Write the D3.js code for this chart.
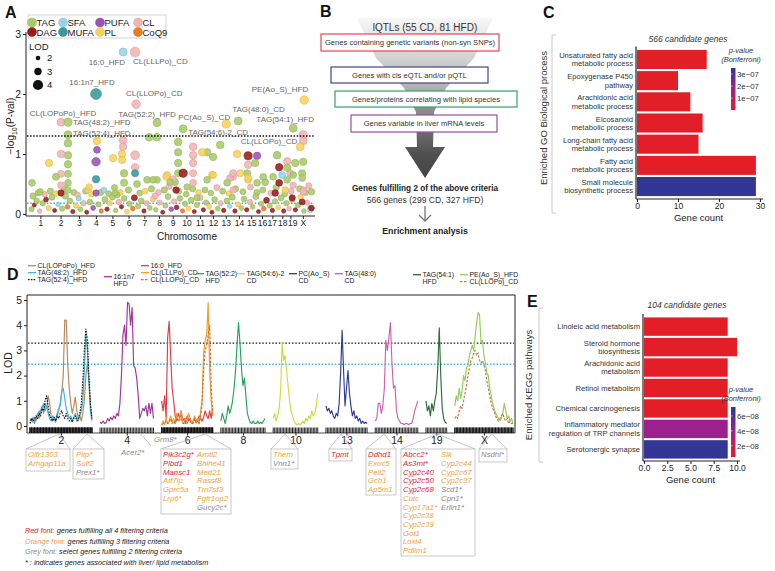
<!DOCTYPE html>
<html>
<head>
<meta charset="utf-8">
<script src="https://cdn.jsdelivr.net/npm/d3@7"></script>
<style>
html,body{margin:0;padding:0;background:#fff;}
svg{display:block;font-family:"Liberation Sans",Arial,Helvetica,sans-serif;}
</style>
</head>
<body>
<svg id="fig" width="775" height="571"></svg>
<script>
// ================= DATA =================
// ---- Panel A ----
const lipidClasses = ["TAG","SFA","PUFA","CL","DAG","MUFA","PL","CoQ9"];
const lipidColors  = ["#a8cb68","#94d5ea","#9a52b4","#f4b3b3","#9b1b1b","#37989f","#f9d25b","#ec7a22"];
const chromNames   = ["1","2","3","4","5","6","7","8","9","10","11","12","13","14","15","16","17","18","19","X"];
const chromLengthsMb = [195,182,160,157,152,150,145,130,125,131,122,120,121,125,104,98,95,91,61,171];
const aYTicks = [0,1,2,3];
const aSigThreshold = 1.3;
const aSuggestThreshold = 0.18;
const lodLegendValues = [2,3,4];
// [cumulative genome position (Mb), -log10(P), lipid class, LOD, label]
const aPointsHigh = [
 [870,2.70,"SFA",3.2,"16:0_HFD"],
 [982,2.70,"CL",3.8,"CL(LLLPo)_CD"],
 [617,2.00,"MUFA",4.2,"16:1n7_HFD"],
 [991,1.83,"CL",3.4,"CL(LLOPo)_CD"],
 [2562,1.90,"PL",3.4,"PE(Ao_S)_HFD"],
 [290,1.53,"CL",3.2,"CL(LOPoPo)_HFD"],
 [355,1.53,"TAG",3.3,"TAG(48:2)_HFD"],
 [355,1.32,"TAG",3.2,"TAG(52:4)_HFD"],
 [1187,1.52,"TAG",3.2,"TAG(52:2)_HFD"],
 [1833,1.50,"PL",3.3,"PC(Ao_S)_CD"],
 [1431,1.42,"TAG",3.2,"TAG(54:6)-2_CD"],
 [1945,1.55,"TAG",3.2,"TAG(48:0)_CD"],
 [2459,1.43,"TAG",3.2,"TAG(54:1)_HFD"],
 [2553,1.32,"CL",3.3,"CL(LLOPo)_CD"],
 [1113,1.28,"TAG",3.1,""],
 [1187,1.28,"TAG",3.1,""],
 [2553,1.22,"CL",3.2,""],
 [2525,1.12,"PL",3.2,""]
];
const aPointsMid = [
 [355,1.18,"TAG",3.1],[355,0.98,"TAG",3.0],[355,0.83,"TAG",3.0],[355,0.67,"TAG",2.9],[355,0.52,"TAG",2.8],[355,0.40,"TAG",2.7],
 [290,1.00,"CL",3.1],[290,0.67,"CL",2.9],[290,0.48,"CL",2.8],[178,0.85,"PL",3.0],
 [626,1.07,"PUFA",2.8],[617,0.87,"PUFA",3.4],[626,1.22,"PL",3.1],[617,0.58,"MUFA",3.0],
 [870,1.23,"CL",3.1],[870,1.12,"CL",3.0],[776,0.93,"PL",3.0],[860,1.00,"PL",3.0],[860,0.90,"PL",2.9],
 [982,0.98,"CL",3.5],[982,0.78,"CL",3.0],[982,0.68,"MUFA",2.9],[879,0.68,"TAG",3.0],[879,0.52,"TAG",2.9],[1000,0.50,"TAG",2.8],
 [1384,1.20,"TAG",3.1],[1384,1.03,"TAG",3.0],[1384,0.85,"TAG",3.0],[1384,0.68,"TAG",2.9],
 [1524,1.12,"CL",3.1],[1524,0.98,"CL",3.0],[1524,0.85,"CL",3.0],[1524,0.68,"CL",2.9],
 [1655,1.03,"TAG",3.0],[1711,0.95,"TAG",3.0],[1608,1.03,"PL",3.0],[1777,1.15,"TAG",3.1],[1935,1.00,"PL",3.0],
 [2038,0.97,"DAG",3.3],[2038,0.82,"CL",3.0],[2038,0.57,"PL",2.9],[2122,0.97,"PUFA",3.0],[2309,0.98,"TAG",3.1],
 [2328,0.78,"DAG",3.0],[2328,0.52,"DAG",2.8],[2478,0.85,"TAG",3.0],[2553,0.87,"TAG",3.0],[2403,0.88,"CL",3.0],
 [2104,0.85,"TAG",3.0],[2029,0.68,"TAG",2.9],[1431,0.68,"DAG",3.3],[1281,0.65,"PL",2.9],[19,0.52,"TAG",2.8],
 [1702,0.65,"PL",2.9],[1898,0.62,"CL",2.9],[243,0.62,"TAG",2.9],[1094,0.57,"TAG",2.8],[1187,0.57,"TAG",2.8],
 [1272,0.62,"PL",2.8],[1356,0.53,"TAG",2.8],[1337,0.58,"CL",2.8],[1468,0.45,"TAG",2.7],[1870,0.60,"CL",2.8],
 [1964,0.68,"PL",2.9],[2197,0.53,"TAG",2.8],[2272,0.62,"TAG",2.8],[2356,0.65,"SFA",2.8],[2431,0.68,"CL",2.9],
 [2543,0.68,"TAG",2.9],[2459,0.65,"TAG",2.8],[2384,0.40,"PL",2.7],[2553,0.40,"CL",2.7],[2630,0.37,"TAG",2.7],
 [2291,0.35,"DAG",2.7],[94,0.37,"TAG",2.7],[542,0.40,"PL",2.7],[813,0.32,"TAG",2.6],[1561,0.27,"TAG",2.6],
 [552,0.45,"PL",2.7],[617,0.35,"PUFA",2.6],[290,0.35,"DAG",2.6],[795,0.35,"TAG",2.6],[1150,0.57,"TAG",2.8],
 [1169,0.30,"CL",2.6],[1309,0.53,"TAG",2.8],[1365,0.40,"DAG",2.7],[1524,0.52,"CL",2.8],[1655,0.57,"TAG",2.8],
 [1711,0.65,"PL",2.8],[1842,0.52,"TAG",2.8],[1898,0.40,"CL",2.7],[2038,0.60,"PL",2.8],[2122,0.52,"TAG",2.8],
 [2179,0.62,"TAG",2.8],[2403,0.57,"TAG",2.8],[2459,0.48,"CL",2.7],[2543,0.60,"TAG",2.8],[2553,0.37,"CL",2.7],
 [2450,0.27,"DAG",2.6],[2543,0.20,"DAG",2.5],[2620,0.07,"SFA",2.4],[2630,0.10,"DAG",2.4],[2403,0.77,"TAG",3.0],[1898,0.68,"CL",2.9]
];
const aPointsLow = [
 [28,0.30,"TAG",2.6],[75,0.35,"TAG",2.5],[135,0.33,"CL",2.4],[190,0.38,"TAG",2.6],[245,0.34,"PL",2.4],[320,0.42,"TAG",2.6],
 [410,0.36,"TAG",2.5],[445,0.32,"CL",2.4],[520,0.38,"TAG",2.5],[575,0.33,"PL",2.4],[660,0.36,"TAG",2.6],[690,0.40,"SFA",2.4],
 [735,0.34,"TAG",2.5],[790,0.44,"TAG",2.6],[845,0.36,"PL",2.4],[920,0.40,"TAG",2.6],[1025,0.35,"TAG",2.5],[1075,0.38,"PL",2.4],
 [1135,0.42,"TAG",2.6],[1200,0.36,"CL",2.4],[1255,0.40,"TAG",2.6],[1300,0.46,"CL",2.5],[1390,0.38,"TAG",2.5],[1460,0.33,"TAG",2.4],
 [1520,0.42,"TAG",2.6],[1575,0.36,"PL",2.4],[1635,0.40,"TAG",2.5],[1690,0.35,"TAG",2.4],[1745,0.44,"CL",2.5],[1800,0.38,"TAG",2.5],
 [1860,0.34,"PL",2.4],[1920,0.42,"TAG",2.6],[1990,0.37,"TAG",2.5],[2060,0.45,"CL",2.5],[2120,0.36,"TAG",2.5],[2175,0.40,"TAG",2.5],
 [2250,0.35,"CL",2.4],[2300,0.44,"TAG",2.6],[2380,0.33,"TAG",2.4],[2440,0.38,"CL",2.5],[2520,0.42,"TAG",2.6],[2575,0.36,"TAG",2.5],[2605,0.47,"CL",2.5],
 [15,0.08,"TAG",2.2],[40,0.15,"DAG",1.8],[62,0.22,"TAG",2.4],[90,0.05,"CL",2.0],[118,0.18,"TAG",2.3],[150,0.24,"DAG",2.1],
 [175,0.10,"PL",2.2],[205,0.28,"TAG",2.5],[230,0.06,"DAG",1.8],[262,0.16,"SFA",2.0],[300,0.09,"TAG",2.3],[330,0.30,"TAG",2.6],
 [350,0.12,"CoQ9",2.0],[372,0.22,"TAG",2.4],[400,0.04,"DAG",1.9],[430,0.14,"PL",2.2],[455,0.26,"SFA",2.2],[470,0.08,"TAG",2.1],
 [500,0.18,"CL",2.3],[530,0.03,"DAG",1.8],[560,0.20,"TAG",2.4],[590,0.10,"PUFA",2.1],[640,0.16,"TAG",2.3],[665,0.05,"CoQ9",1.9],
 [700,0.24,"TAG",2.5],[720,0.08,"DAG",1.9],[745,0.18,"PL",2.2],[770,0.28,"TAG",2.4],[800,0.06,"TAG",2.0],[830,0.20,"CL",2.3],
 [855,0.12,"DAG",1.9],[880,0.26,"TAG",2.4],[905,0.04,"PL",2.0],[930,0.17,"TAG",2.3],[960,0.09,"CoQ9",2.0],[975,0.27,"DAG",2.5],
 [1010,0.13,"TAG",2.2],[1040,0.22,"TAG",2.4],[1065,0.05,"DAG",1.9],[1090,0.18,"CL",2.2],[1120,0.10,"TAG",2.1],[1150,0.25,"PL",2.4],
 [1175,0.07,"TAG",2.0],[1210,0.19,"CL",2.3],[1240,0.03,"DAG",1.8],[1265,0.14,"TAG",2.2],[1290,0.29,"TAG",2.5],[1320,0.08,"PUFA",2.0],
 [1345,0.21,"CL",2.3],[1370,0.11,"DAG",2.0],[1400,0.26,"TAG",2.4],[1425,0.05,"CoQ9",1.9],[1450,0.17,"TAG",2.2],[1480,0.09,"PL",2.1],
 [1505,0.23,"TAG",2.4],[1535,0.04,"DAG",1.8],[1560,0.15,"TAG",2.2],[1590,0.27,"CL",2.4],[1620,0.07,"DAG",1.9],[1645,0.19,"TAG",2.3],
 [1675,0.12,"PL",2.1],[1700,0.03,"DAG",1.8],[1725,0.24,"TAG",2.4],[1755,0.09,"TAG",2.1],[1780,0.18,"CL",2.2],[1810,0.06,"DAG",1.9],
 [1840,0.22,"TAG",2.4],[1865,0.13,"SFA",2.0],[1890,0.28,"TAG",2.5],[1915,0.05,"DAG",1.9],[1945,0.16,"PL",2.2],[1975,0.10,"TAG",2.1],
 [2000,0.25,"TAG",2.4],[2025,0.07,"DAG",1.9],[2055,0.20,"CL",2.3],[2080,0.12,"TAG",2.1],[2110,0.29,"TAG",2.5],[2135,0.04,"DAG",1.8],
 [2160,0.17,"TAG",2.2],[2185,0.09,"CoQ9",2.0],[2210,0.23,"DAG",2.4],[2240,0.14,"TAG",2.2],[2265,0.06,"DAG",1.9],[2290,0.21,"TAG",2.3],
 [2320,0.11,"PL",2.1],[2345,0.27,"TAG",2.4],[2370,0.05,"DAG",1.9],[2395,0.18,"TAG",2.3],[2420,0.09,"CL",2.1],[2450,0.24,"TAG",2.4],
 [2480,0.07,"DAG",1.9],[2505,0.15,"TAG",2.2],[2530,0.28,"PL",2.4],[2560,0.05,"TAG",2.0],[2590,0.19,"CL",2.3],[2615,0.10,"SFA",2.1]
];

// ---- Panel B ----
const bTitle = "lQTLs (55 CD, 81 HFD)";
const bCriteria = ["Genes containing genetic variants (non-syn SNPs)","Genes with cis eQTL and/or pQTL","Genes/proteins correlating with lipid species","Genes variable in liver mRNA levels"];
const bCriteriaColors = ["#df4a50","#44448f","#2fa46c","#9b4ea6"];
const bResult = ["Genes fulfilling 2 of the above criteria","566 genes (299 CD, 327 HFD)","Enrichment analysis"];

// ---- Panel C ----
const cTerms = [["Unsaturated fatty acid","metabolic process"],["Epoxygenase P450","pathway"],["Arachidonic acid","metabolic process"],["Eicosanoid","metabolic process"],["Long-chain fatty acid","metabolic process"],["Fatty acid","metabolic process"],["Small molecule","biosynthetic process"]];
const cGeneCounts = [17,10,13,16,15,29,29];
const cPValues = [3e-9,4e-9,3e-9,5e-9,6e-9,1e-9,3.4e-7];
const cXTicks = [0,10,20,30];
const cPTicks = [1e-7,2e-7,3e-7];
const cPTickLabels = ["1e\u221207","2e\u221207","3e\u221207"];

// ---- Panel D ----
const dChroms = ["2","4","6","8","10","13","14","19","X"];
const dChromLengths = [182,157,150,130,131,121,125,61,171];
const dYTicks = [0,1,2,3,4,5];
const dSigThreshold = 3.29;
const dSuggestThreshold = 2.45;
const lodChr2_CL_LOPoPo_HFD = [0.2,0.3,0.15,0.35,0.2,0.5,0.3,0.6,0.8,0.5,0.9,0.7,1.2,0.9,0.4,0.2,0.3,0.15,0.4,0.6,0.9,1.3,2.0,4.2,4.2,2.4,1.5,0.9,0.5,0.8,1.15,0.6,0.3,0.4,0.2,0.5,1.0,2.0,2.5,1.8,0.8,0.3];
const lodChr2_TAG48_2_HFD = [0.3,0.2,0.35,0.1,0.3,0.45,0.6,0.5,0.7,0.9,0.6,0.8,0.5,0.3,0.2,0.4,0.3,0.25,0.5,0.7,0.8,1.4,1.5,1.1,0.7,0.5,0.3,0.4,0.2,0.35,0.5,0.3,0.2,0.4,0.6,1.0,2.2,3.6,3.0,1.8,0.6,0.2];
const lodChr2_TAG52_4_HFD = [0.1,0.3,0.2,0.25,0.4,0.3,0.5,0.4,0.7,0.6,1.0,1.2,0.8,0.4,0.3,0.2,0.35,0.2,0.4,0.3,0.5,0.6,0.4,0.3,0.5,0.3,0.2,0.3,0.15,0.3,0.4,0.2,0.3,0.5,0.9,1.8,3.0,3.85,3.4,2.0,0.9,0.3];
const lodChr4_16_1n7_HFD = [0.15,0.1,0.2,0.1,0.15,0.3,0.2,0.35,0.25,0.4,0.3,0.5,0.4,0.9,2.0,3.6,4.0,3.2,4.9,4.85,4.0,4.7,2.4,2.3,1.9,1.2,0.3,0.5,0.7,0.6,0.8,0.4,0.9,0.5,0.9,0.3];
const lodChr6_16_0_HFD = [1.0,0.6,1.2,0.3,3.5,4.15,2.8,1.5,1.0,0.4,0.2,0.5,0.3,0.6,0.2,0.3,0.1,0.4,0.2,0.3,0.1,0.2,0.3,0.15,0.2,0.4,0.3,0.2,0.35,0.6,0.4,0.3,0.6,0.3,0.7];
const lodChr6_CL_LLLPo_CD = [0.1,0.2,0.05,0.3,0.1,0.2,0.4,0.15,0.3,0.1,0.5,0.2,0.3,0.6,0.2,0.1,0.3,0.2,0.5,0.3,0.1,0.2,0.4,0.2,0.3,0.1,0.6,1.1,2.9,3.4,3.6,4.9,2.2,1.0,0.4];
const lodChr6_CL_LLOPo_CD = [0.05,0.1,0.1,0.2,0.1,0.15,0.3,0.1,0.2,0.1,0.3,0.2,0.2,0.4,0.1,0.1,0.2,0.1,0.3,0.2,0.1,0.1,0.3,0.1,0.2,0.1,0.4,0.9,2.2,3.0,3.2,3.6,4.0,1.6,0.5];
const lodChr8_TAG52_2_HFD = [0.2,0.5,0.3,0.1,0.4,0.8,0.5,0.7,1.0,1.5,2.2,3.2,4.1,3.3,2.3,1.6,1.9,1.2,0.5,0.3,0.15,0.1,0.2,0.1,0.1,0.2,0.1,0.15,0.1,0.2,0.3];
const lodChr10_TAG54_6_2_CD = [0.3,0.5,0.2,0.4,0.7,1.4,3.3,2.6,2.8,2.2,1.6,1.0,0.6,0.4,0.2,0.1,0.05,0.1,0.05,0.1,0.2,0.1,0.3,0.2,0.4,0.3,0.6,0.4,0.5,0.8,1.3];
const lodChr13_PC_AoS_CD = [0.8,0.6,0.7,0.5,0.6,0.4,0.3,0.5,0.4,0.9,2.1,3.8,2.2,0.8,1.5,2.2,1.3,0.8,0.4,0.6,0.3,0.4,0.2,0.3,0.1,0.2,0.1,0.15,0.1];
const lodChr14_TAG48_0_CD = [0.2,0.3,0.9,0.9,0.5,0.8,1.5,3.4,3.0,3.5,4.1,2.5,1.5,1.6,0.6,0.3,0.2,0.1,0.1,0.05,0.1,0.1,0.05,0.1,0.1,0.3,0.6,0.8,1.0];
const lodChr19_TAG54_1_HFD = [1.0,0.6,0.8,0.4,0.9,0.6,1.0,1.3,2.3,3.9,2.0,0.7,0.3,0.15,0.1];
const lodChrX_PE_AoS_HFD = [0.8,1.2,1.0,1.5,1.1,1.4,2.0,1.8,2.3,2.4,2.8,3.0,3.2,3.0,3.6,4.1,4.5,4.4,3.3,3.4,2.8,2.5,2.1,2.0,1.5,1.2,0.9,0.7,0.5,0.4,0.3,0.2,0.3,0.5,0.9,0.6,0.3,0.4,0.2,0.3,0.1];
const lodChrX_CL_LLOPo_CD = [0.3,0.4,0.3,0.6,0.8,0.7,1.0,1.3,1.6,2.0,2.3,2.6,2.7,2.9,3.0,2.8,2.9,2.6,2.5,2.6,2.4,2.2,1.8,1.5,1.2,0.9,0.7,0.6,0.4,0.3,0.2,0.3,0.4,0.5,0.3,0.2,0.3,0.1,0.2,0.1,0.1];

// genes: [name, number of criteria fulfilled]
const genesChr2a = [["Olfr1303",3],["Arhgap11a",3]];
const genesChr2b = [["Pltp*",3],["Sulf2",3],["Prex1*",2]];
const genesChr4 = [["Acer2*",2]];
const genesChr6a = [["Grm8*",2]];
const genesChr6L = [["Pik3c2g*",4],["Plbd1",4],["Mansc1",4],["Atf7ip",3],["Gprc5a",3],["Lrp6*",3]];
const genesChr6R = [["Arntl2",3],["Bhlhe41",3],["Med21",3],["Rassf8",3],["Tm7sf3",3],["Fgfr1op2",3],["Gucy2c*",2]];
const genesChr10 = [["Them",3],["Vnn1*",2]];
const genesChr13 = [["Tpmt",4]];
const genesChr14 = [["Ddhd1",4],["Exoc5",3],["Pell2",3],["Gch1",3],["Ap5m1",3]];
const genesChr19L = [["Abcc2*",4],["As3mt*",4],["Cyp2c40",4],["Cyp2c50",4],["Cyp2c68",4],["Cutc",3],["Cyp17a1*",3],["Cyp2c38",3],["Cyp2c39",3],["Got1",3],["Loxl4",3],["Pdlim1",3]];
const genesChr19R = [["Slk",3],["Cyp2c44",3],["Cyp2c67",3],["Cyp2c37",3],["Scd1*",2],["Cpn1*",2],["Erlin1*",2]];
const genesChrX = [["Nsdhl*",2]];
const footnotes = [["Red font:"," genes fulfilling all 4 filtering criteria",4],["Orange font:"," genes fulfilling 3 filtering criteria",3],["Grey font:"," select genes fulfilling 2 filtering criteria",2],["* : indicates genes associated with liver/ lipid metabolism","",0]];

// ---- Panel E ----
const eTerms = [["Linoleic acid metabolism"],["Steroid hormone","biosynthesis"],["Arachidonic acid","metabolism"],["Retinol metabolism"],["Chemical carcinogenesis"],["Inflammatory mediator","regulation of TRP channels"],["Serotonergic synapse"]];
const eGeneCounts = [9,10,9,9,9,9,9];
const ePValues = [1e-9,2e-9,1.5e-9,2.5e-9,3e-9,4e-8,7e-8];
const eXTicks = [0,2.5,5,7.5,10];
const ePTicks = [2e-8,4e-8,6e-8];
const ePTickLabels = ["2e\u221208","4e\u221208","6e\u221208"];

// ================= DRAWING =================
const FONT = '"Liberation Sans", Arial, Helvetica, sans-serif';
const svg = d3.select("#fig");
const defs = svg.append("defs");
function txt(g,x,y,s,o={}){
  const t=g.append("text").attr("x",x).attr("y",y).text(s)
   .attr("font-size",o.size||8).attr("fill",o.fill||"#222").attr("text-anchor",o.anchor||"start");
  if(o.weight) t.attr("font-weight",o.weight);
  if(o.style) t.attr("font-style",o.style);
  return t;
}
function styleAxis(g,size){
  g.attr("font-family",FONT).attr("font-size",size);
  g.selectAll("line").attr("stroke","#222");
  g.selectAll("path").attr("stroke","#222");
  g.selectAll("text").attr("fill","#222");
}
[["A",5,18],["B",320,17],["C",543,18],["D",7,280],["E",527,307]].forEach(p=>txt(svg,p[1],p[2],p[0],{size:16,weight:"bold",fill:"#111"}));

// ----- Panel A -----
(function(){
  const g=svg.append("g");
  const starts=[]; let acc=0; chromLengthsMb.forEach(l=>{starts.push(acc);acc+=l;});
  const centers=chromLengthsMb.map((l,i)=>starts[i]+l/2);
  const x=d3.scaleLinear().domain([0,acc]).range([30,312]);
  const y=d3.scaleLinear().domain([0,3]).range([214,34]);
  const r=d3.scaleLinear().domain([2,4]).range([2.3,5.1]);
  const col=d3.scaleOrdinal().domain(lipidClasses).range(lipidColors);

  const ya=g.append("g").attr("transform","translate(26,0)")
    .call(d3.axisLeft(y).tickValues(aYTicks).tickFormat(d3.format("d")).tickSize(3).tickPadding(2).tickSizeOuter(0));
  ya.select(".domain").remove(); styleAxis(ya,10.5);
  g.append("line").attr("x1",26).attr("x2",26).attr("y1",32).attr("y2",216).attr("stroke","#222");
  const xa=g.append("g").attr("transform","translate(0,216)")
    .call(d3.axisBottom(x).tickValues(centers).tickFormat((d,i)=>chromNames[i]).tickSize(3).tickPadding(1).tickSizeOuter(0));
  xa.select(".domain").remove(); styleAxis(xa,8.5);
  xa.selectAll(".tick text").attr("dx",(d,i)=>chromNames[i]==="19"?1.8:(chromNames[i]==="17"?-0.6:0));
  g.append("line").attr("x1",26).attr("x2",315).attr("y1",216).attr("y2",216).attr("stroke","#222");
  txt(g,187,240,"Chromosome",{size:10,anchor:"middle"});
  const yl=g.append("text").attr("transform","translate(14,126) rotate(-90)").attr("text-anchor","middle").attr("font-size",10).attr("fill","#222");
  yl.append("tspan").text("\u2212log");
  yl.append("tspan").text("10").attr("font-size",7).attr("dy",3);
  yl.append("tspan").text("(P-val)").attr("dy",-3);

  const pts=aPointsLow.concat(aPointsMid).concat(aPointsHigh);
  g.append("line").attr("x1",27).attr("x2",314).attr("y1",y(aSuggestThreshold)).attr("y2",y(aSuggestThreshold))
   .attr("stroke","#3fb2dc").attr("stroke-width",1.4).attr("stroke-dasharray","1.5,1.8");
  g.selectAll("circle.pt").data(pts).join("circle").attr("class","pt")
   .attr("cx",d=>x(d[0])).attr("cy",d=>y(d[1])).attr("r",d=>r(d[3]))
   .attr("fill",d=>col(d[2])).attr("fill-opacity",0.88)
   .attr("stroke",d=>d3.color(col(d[2])).darker(0.35)).attr("stroke-width",0.6);
  g.append("line").attr("x1",27).attr("x2",314).attr("y1",y(aSigThreshold)).attr("y2",y(aSigThreshold))
   .attr("stroke","#111").attr("stroke-width",1.4).attr("stroke-dasharray","1.5,1.6");
  const place=[[2,13,"end"],[-2,12,"start"],[-4,-9,"middle"],[-10,-8,"start"],[4,-8,"end"],[2,-6,"middle"],[5,3,"start"],[5,1,"start"],[-10,-6,"middle"],[4,-4,"end"],[5,6,"start"],[-6,-9,"start"],[-8,-6,"middle"],[-6,9,"end"]];
  aPointsHigh.forEach((d,i)=>{ if(!d[4]) return; const p=place[i];
    txt(g,x(d[0])+p[0],y(d[1])+p[1],d[4],{size:8,fill:"#666",anchor:p[2]}); });
  g.append("rect").attr("x",28).attr("y",15).attr("width",138).attr("height",23).attr("fill","#fff").attr("fill-opacity",0.9).attr("stroke","#c8c8c8").attr("stroke-width",0.8);
  const legX=[32,63,100,138];
  lipidClasses.forEach((c,i)=>{ const cx=legX[i%4], cy=i<4?22.5:32;
    g.append("circle").attr("cx",cx).attr("cy",cy).attr("r",4.5).attr("fill",lipidColors[i]).attr("stroke",d3.color(lipidColors[i]).darker(0.3)).attr("stroke-width",0.5);
    txt(g,cx+4.5,cy+3.5,c,{size:9.5,fill:"#222"}); });
  txt(g,29,50,"LOD",{size:9.5});
  lodLegendValues.forEach((v,i)=>{ const cy=58+i*13.5;
    g.append("circle").attr("cx",38).attr("cy",cy).attr("r",r(v)).attr("fill","#111");
    txt(g,47,cy+3.3,String(v),{size:9.5}); });
})();

// ----- Panel B -----
(function(){
  const g=svg.append("g");
  const gr=defs.append("linearGradient").attr("id","funnelGrad").attr("x1",0).attr("y1",0).attr("x2",0).attr("y2",1);
  [[0,"#f7f7f7"],[0.15,"#e2e2e2"],[0.4,"#b9b9b9"],[0.65,"#7a7a7a"],[0.85,"#505050"],[1,"#444"]].forEach(s=>gr.append("stop").attr("offset",s[0]).attr("stop-color",s[1]));
  const shape=[[357,18],[376,58],[404,88],[416,112],[417,147],[405,147],[425,178],[445,147],[433,147],[434,112],[446,88],[474,58],[493,18]];
  g.append("path").attr("d",d3.line()(shape)+"Z").attr("fill","url(#funnelGrad)");
  txt(g,425,31,bTitle,{size:10,anchor:"middle",fill:"#333"});
  const boxes=[[321,34,178,17],[331,67,157,16],[335,91,182,16],[351,115,146,17]];
  bCriteria.forEach((s,i)=>{ const b=boxes[i];
    g.append("rect").attr("x",b[0]).attr("y",b[1]).attr("width",b[2]).attr("height",b[3]).attr("fill","#fff").attr("stroke",bCriteriaColors[i]).attr("stroke-width",1.2);
    txt(g,b[0]+b[2]/2,b[1]+b[3]/2+2.8,s,{size:7.6,anchor:"middle",fill:"#333"}); });
  txt(g,425,191,bResult[0],{size:8.2,weight:"bold",anchor:"middle",fill:"#222"});
  txt(g,425,203,bResult[1],{size:8.6,anchor:"middle",fill:"#333"});
  g.append("path").attr("d","M425,206V221M419,215L425,221L431,215").attr("fill","none").attr("stroke","#777").attr("stroke-width",1.3);
  txt(g,425,234,bResult[2],{size:8.8,weight:"bold",anchor:"middle",fill:"#222"});
})();

function makeColor(lo,hi){ return d3.scaleLinear().domain([lo,(lo+hi)/2,hi]).range(["#e31e26","#a1208f","#2c3794"]).clamp(true); }
function colorBar(g,id,x0,y0,y1,lo,hi,ticks,labels){
  const gr=defs.append("linearGradient").attr("id",id).attr("x1",0).attr("y1",1).attr("x2",0).attr("y2",0);
  [[0,"#e31e26"],[0.5,"#a1208f"],[1,"#2c3794"]].forEach(s=>gr.append("stop").attr("offset",s[0]).attr("stop-color",s[1]));
  g.append("rect").attr("x",x0).attr("y",y0).attr("width",4.5).attr("height",y1-y0).attr("fill","url(#"+id+")");
  const s=d3.scaleLinear().domain([lo,hi]).range([y1,y0]);
  ticks.forEach((t,i)=>{ g.append("line").attr("x1",x0).attr("x2",x0+1.5).attr("y1",s(t)).attr("y2",s(t)).attr("stroke","#fff").attr("stroke-width",0.6);
    txt(g,x0+6,s(t)+2.8,labels[i],{size:7.8,fill:"#333"}); });
}
function barPanel(opt){
  const g=svg.append("g");
  const y=d3.scaleBand().domain(opt.terms.map((d,i)=>i)).range(opt.yRange).paddingInner(0.1).paddingOuter(0.02);
  const x=d3.scaleLinear().domain(opt.xDomain).range(opt.xRange);
  const col=makeColor(opt.pLo,opt.pHi);
  g.selectAll("rect.bar").data(opt.counts).join("rect").attr("class","bar")
   .attr("x",x(0)).attr("y",(d,i)=>y(i)).attr("width",d=>x(d)-x(0)).attr("height",y.bandwidth())
   .attr("fill",(d,i)=>col(opt.pvals[i]));
  const xa=g.append("g").attr("transform",`translate(0,${opt.axisY})`)
   .call(d3.axisBottom(x).tickValues(opt.ticks).tickFormat(opt.fmt).tickSize(3).tickPadding(0.5).tickSizeOuter(0));
  styleAxis(xa,8.5);
  xa.select(".domain").attr("d",`M${opt.xRange[0]-1},0H${opt.xRange[1]+3}`);
  g.append("line").attr("x1",x(0)-1).attr("x2",x(0)-1).attr("y1",opt.yRange[0]-3).attr("y2",opt.axisY).attr("stroke","#222").attr("stroke-width",1.2);
  opt.terms.forEach((t,i)=>{ const cy=y(i)+y.bandwidth()/2; const n=t.length;
    t.forEach((s,j)=>txt(g,x(0)-4,cy+(j-(n-1)/2)*8.4+2.7,s,{size:7.6,anchor:"end",fill:"#333"})); });
  txt(g,(opt.xRange[0]+opt.xRange[1])/2,opt.axisY+21.5,"Gene count",{size:9.5,anchor:"middle"});
  txt(g,opt.titleX,opt.titleY,opt.title,{size:8.5,style:"italic",anchor:"middle",fill:"#333"});
  g.append("path").attr("d",`M${opt.brX+4},${opt.brY0}H${opt.brX}V${opt.brY1}H${opt.brX+4}`).attr("fill","none").attr("stroke","#c8c8c8").attr("stroke-width",1);
  g.append("text").attr("transform",`translate(${opt.labX},${opt.labY}) rotate(-90)`).attr("text-anchor","middle").attr("font-size",9.5).attr("fill","#333").text(opt.yLabel);
  txt(g,opt.cbX+10,opt.cbY0-15,"p-value",{size:7.5,style:"italic",anchor:"middle",fill:"#333"});
  txt(g,opt.cbX+10,opt.cbY0-6,"(Bonferroni)",{size:7.5,style:"italic",anchor:"middle",fill:"#333"});
  colorBar(g,opt.id,opt.cbX,opt.cbY0,opt.cbY1,opt.cbLo,opt.cbHi,opt.pTicks,opt.pLabels);
}
barPanel({terms:cTerms,counts:cGeneCounts,pvals:cPValues,yRange:[49.5,196.5],xDomain:[0,30],xRange:[637,760],
  pLo:1e-9,pHi:3.5e-7,ticks:cXTicks,fmt:d3.format("d"),axisY:199,title:"566 candidate genes",titleX:688,titleY:42,
  brX:552,brY0:35,brY1:213,labX:547,labY:118,yLabel:"Enriched GO Biological process",
  id:"cbC",cbX:731,cbY0:68,cbY1:110,cbLo:1e-9,cbHi:3.5e-7,pTicks:cPTicks,pLabels:cPTickLabels});
barPanel({terms:eTerms,counts:eGeneCounts,pvals:ePValues,yRange:[317,459],xDomain:[0,10],xRange:[644,737],
  pLo:5e-9,pHi:7.2e-8,ticks:eXTicks,fmt:d3.format(".1f"),axisY:461,title:"104 candidate genes",titleX:687,titleY:308,
  brX:539,brY0:308,brY1:462,labX:532,labY:385,yLabel:"Enriched KEGG pathways",
  id:"cbE",cbX:731,cbY0:407,cbY1:457,cbLo:5e-9,cbHi:7.2e-8,pTicks:ePTicks,pLabels:ePTickLabels});

// ----- Panel D -----
(function(){
  const g=svg.append("g");
  const gap=24; const offs={}; let acc=0;
  dChroms.forEach((c,i)=>{offs[c]=acc; acc+=dChromLengths[i]+gap;});
  const total=acc-gap;
  const lenOf=c=>dChromLengths[dChroms.indexOf(c)];
  const x=d3.scaleLinear().domain([0,total]).range([30,513]);
  const y=d3.scaleLinear().domain([0,5]).range([426,300]);
  const traces=[
    {name:["CL(LOPoPo)_HFD"],chr:"2",v:lodChr2_CL_LOPoPo_HFD,c:"#b8875a",dash:null,lg:[28,268]},
    {name:["TAG(48:2)_HFD"],chr:"2",v:lodChr2_TAG48_2_HFD,c:"#38b3e6",dash:null,lg:[28,275]},
    {name:["TAG(52:4)_HFD"],chr:"2",v:lodChr2_TAG52_4_HFD,c:"#151515",dash:"1.6,1.2",lg:[28,282]},
    {name:["16:1n7","HFD"],chr:"4",v:lodChr4_16_1n7_HFD,c:"#a3339b",dash:null,lg:[104,279]},
    {name:["16:0_HFD"],chr:"6",v:lodChr6_16_0_HFD,c:"#e23a45",dash:null,lg:[141,268]},
    {name:["CL(LLLPo)_CD"],chr:"6",v:lodChr6_CL_LLLPo_CD,c:"#ef9c2c",dash:null,lg:[141,275]},
    {name:["CL(LLOPo)_CD"],chr:"6",v:lodChr6_CL_LLOPo_CD,c:"#c8702a",dash:"2.5,1.5",lg:[141,282]},
    {name:["TAG(52:2)","HFD"],chr:"8",v:lodChr8_TAG52_2_HFD,c:"#22a356",dash:null,lg:[196,276]},
    {name:["TAG(54:6)-2","CD"],chr:"10",v:lodChr10_TAG54_6_2_CD,c:"#c9dc3a",dash:null,lg:[237,276]},
    {name:["PC(Ao_S)","CD"],chr:"13",v:lodChr13_PC_AoS_CD,c:"#2f3a92",dash:null,lg:[289,276]},
    {name:["TAG(48:0)","CD"],chr:"14",v:lodChr14_TAG48_0_CD,c:"#cf5fb5",dash:null,lg:[335,276]},
    {name:["TAG(54:1)","HFD"],chr:"19",v:lodChr19_TAG54_1_HFD,c:"#2e6b35",dash:null,lg:[413,277]},
    {name:["PE(Ao_S)_HFD"],chr:"X",v:lodChrX_PE_AoS_HFD,c:"#8fce5a",dash:null,lg:[460,277]},
    {name:["CL(LLOPo)_CD"],chr:"X",v:lodChrX_CL_LLOPo_CD,c:"#c47a3a",dash:"2.5,1.5",lg:[460,284]}
  ];
  traces.forEach(t=>{ const L=lenOf(t.chr), n=t.v.length; t.pts=t.v.map((v,i)=>[offs[t.chr]+i/(n-1)*L,v]); });
  g.append("path").attr("d","M27,433V295H515V433").attr("fill","none").attr("stroke","#222").attr("stroke-width",1);
  g.append("line").attr("x1",27).attr("x2",515).attr("y1",433).attr("y2",433).attr("stroke","#222").attr("stroke-width",0.8);
  const ya=g.append("g").attr("transform","translate(27,0)").call(d3.axisLeft(y).tickValues(dYTicks).tickFormat(d3.format("d")).tickSize(3).tickPadding(2).tickSizeOuter(0));
  ya.select(".domain").remove(); styleAxis(ya,10.5);
  g.append("text").attr("transform","translate(12,363) rotate(-90)").attr("text-anchor","middle").attr("font-size",10.5).attr("fill","#222").text("LOD");
  dChroms.forEach(c=>{ const ps=[]; traces.filter(t=>t.chr===c).forEach(t=>t.pts.forEach(p=>ps.push(p[0])));
    g.selectAll(null).data(ps).join("line").attr("x1",d=>x(d)).attr("x2",d=>x(d)).attr("y1",427.5).attr("y2",433).attr("stroke","#111").attr("stroke-width",0.9); });
  const xa=g.append("g").attr("transform","translate(0,433)")
    .call(d3.axisBottom(x).tickValues(dChroms.map((c,i)=>offs[c]+dChromLengths[i]/2)).tickFormat((d,i)=>dChroms[i]).tickSize(2.5).tickPadding(1).tickSizeOuter(0));
  xa.select(".domain").remove(); styleAxis(xa,10.5);
  [[dSigThreshold,"#111"],[dSuggestThreshold,"#3fb2dc"]].forEach(t=>g.append("line").attr("x1",28).attr("x2",514).attr("y1",y(t[0])).attr("y2",y(t[0])).attr("stroke",t[1]).attr("stroke-width",1.4).attr("stroke-dasharray","1.5,1.8"));
  const line=d3.line().x(d=>x(d[0])).y(d=>y(d[1]));
  traces.forEach(t=>g.append("path").attr("d",line(t.pts)).attr("fill","none").attr("stroke",t.c).attr("stroke-width",1.15).attr("stroke-dasharray",t.dash).attr("stroke-linejoin","round"));
  traces.forEach(t=>{ const lx=t.lg[0], ly=t.lg[1];
    g.append("line").attr("x1",lx).attr("x2",lx+8).attr("y1",ly-2.3).attr("y2",ly-2.3).attr("stroke",t.c).attr("stroke-width",1.3).attr("stroke-dasharray",t.dash);
    t.name.forEach((s,j)=>txt(g,lx+9.5,ly+j*6.8,s,{size:6.9,fill:"#222"})); });

  const tierColor={4:"#e2232f",3:"#f2a23a",2:"#8a8a8a"};
  const groups=[
    {cols:[[genesChr2a,28]],box:[26,70],apex:[x(offs["2"]+85),434],bottom:471},
    {cols:[[genesChr2b,76]],box:[73,104],apex:[x(offs["2"]+168),434],bottom:479},
    {cols:[[genesChr6L,163],[genesChr6R,197]],box:[161,231],apex:[x(offs["6"]+128),434],bottom:514},
    {cols:[[genesChr10,273]],box:[271,298],apex:[x(offs["10"]+35),434],bottom:469},
    {cols:[[genesChr13,331]],box:[329,352],apex:[x(offs["13"]+45),434],bottom:461},
    {cols:[[genesChr14,368]],box:[366,396],apex:[x(offs["14"]+26),434],bottom:495},
    {cols:[[genesChr19L,403],[genesChr19R,441]],box:[401,475],apex:[x(offs["19"]+33),434],bottom:556},
    {cols:[[genesChrX,481]],box:[479,507],apex:[x(offs["X"]+108),434],bottom:462}
  ];
  const top=449, rowH=8.7;
  groups.forEach(gp=>{
    g.append("path").attr("d",`M${gp.box[0]},${top}L${gp.apex[0]},${gp.apex[1]}L${gp.box[1]},${top}`).attr("fill","none").attr("stroke","#aaa").attr("stroke-width",0.7);
    g.append("rect").attr("x",gp.box[0]).attr("y",top).attr("width",gp.box[1]-gp.box[0]).attr("height",gp.bottom-top).attr("fill","#fff").attr("stroke","#bbb").attr("stroke-width",0.8);
    gp.cols.forEach(cl=>cl[0].forEach((gn,i)=>txt(g,cl[1],top+8.3+i*rowH,gn[0],{size:7.8,style:"italic",fill:tierColor[gn[1]]})));
  });
  g.append("line").attr("x1",x(offs["4"]+120)).attr("x2",x(offs["4"]+150)).attr("y1",434).attr("y2",446).attr("stroke","#aaa").attr("stroke-width",0.7);
  txt(g,121,455,genesChr4[0][0],{size:7.8,style:"italic",fill:tierColor[genesChr4[0][1]]});
  txt(g,154,442,genesChr6a[0][0],{size:7.8,style:"italic",fill:tierColor[genesChr6a[0][1]]});
  footnotes.forEach((f,i)=>{ const t=g.append("text").attr("x",25).attr("y",533+i*10.7).attr("font-size",7.3).attr("font-style","italic");
    t.append("tspan").text(f[0]).attr("fill",f[2]?tierColor[f[2]]:"#222");
    if(f[1]) t.append("tspan").text(f[1]).attr("fill","#222"); });
})();
</script>
</body>
</html>
